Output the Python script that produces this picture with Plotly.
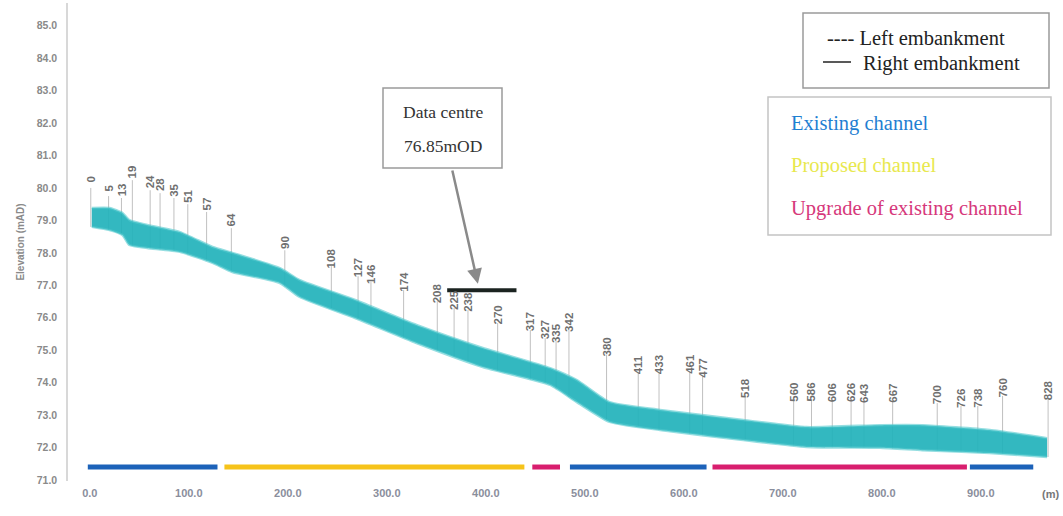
import numpy as np
import plotly.graph_objects as go

# --- Channel long section: chainage (m) and bed band elevations (mAD) ---
chainage = [2, 20, 33, 40, 58, 91, 124, 144, 192, 212, 268, 330, 397, 465,
            492, 525, 576, 660, 724, 798, 841, 909, 967]
band_top = [79.38, 79.38, 79.23, 79.01, 78.86, 78.64, 78.18, 78.00, 77.53,
            77.16, 76.55, 75.78, 75.07, 74.45, 74.08, 73.40, 73.16, 72.85,
            72.63, 72.69, 72.69, 72.54, 72.29]
band_bottom = [78.80, 78.70, 78.55, 78.24, 78.15, 78.03, 77.69, 77.41, 77.07,
               76.64, 75.99, 75.22, 74.48, 73.93, 73.40, 72.79, 72.54, 72.23,
               72.02, 71.99, 71.92, 71.83, 71.71]

# --- Cross-section markers ---
section_chainage = [1, 19, 32, 43, 61, 71, 85, 99, 118, 143, 197, 244, 271, 284,
                    317, 351, 368, 382, 412, 445, 460, 471, 484, 522, 554, 575,
                    606, 619, 662, 711, 729, 750, 769, 782, 811, 856, 880, 897,
                    922, 968]
section_label_level = [80.25, 80.00, 79.94, 80.49, 80.18, 80.09, 79.94, 79.75,
                       79.51, 79.01, 78.33, 77.84, 77.53, 77.35, 77.10, 76.76,
                       76.55, 76.49, 76.09, 75.87, 75.62, 75.53, 75.87, 75.10,
                       74.54, 74.54, 74.57, 74.45, 73.84, 73.71, 73.71, 73.68,
                       73.68, 73.68, 73.68, 73.62, 73.53, 73.53, 73.84, 73.77]
section_names = ["0", "5", "13", "19", "24", "28", "35", "51", "57", "64",
                 "90", "108", "127", "146", "174", "208", "225", "238", "270",
                 "317", "327", "335", "342", "380", "411", "433", "461", "477",
                 "518", "560", "586", "606", "626", "643", "667", "700", "726",
                 "738", "760", "828"]

# --- Channel works along the route (start, end chainage) ---
works_start = [-2, 136, 447, 485, 629, 889]
works_end = [129, 439, 475, 623, 886, 953]
works_type = ["Existing channel", "Proposed channel", "Upgrade of existing channel",
              "Existing channel", "Upgrade of existing channel", "Existing channel"]
works_level = 71.40

# --- Data centre platform ---
data_centre_level = 76.85
data_centre_start = 361
data_centre_end = 431

# --- Axis ticks ---
y_ticks = [71, 72, 73, 74, 75, 76, 77, 78, 79, 80, 81, 82, 83, 84, 85]
x_ticks = [0, 100, 200, 300, 400, 500, 600, 700, 800, 900]

works_colour = {
    "Existing channel": "#1c62b9",
    "Proposed channel": "#f6c31a",
    "Upgrade of existing channel": "#d81e6e",
}

W, H = 1063, 516
ML, MR, MT, MB = 68, 0, 3, 35
PW, PH = W - ML - MR, H - MT - MB

x_min = -22
x_max = x_min + PW / 0.99
y_min = 71 - 1 / 32.45
y_max = y_min + PH / 32.45


def px(xp):
    return (xp - ML) / PW


def py(yp):
    return (H - MB - yp) / PH


fig = go.Figure()

# cross-section marker lines
mx, my = [], []
bot_interp = np.interp(section_chainage, chainage, band_bottom)
for c, lvl, b in zip(section_chainage, section_label_level, bot_interp):
    mx += [c, c, None]
    my += [lvl - 0.25, b, None]
fig.add_trace(go.Scatter(x=mx, y=my, mode="lines",
                         line=dict(color="rgba(140,140,140,0.55)", width=1),
                         hoverinfo="skip", showlegend=False))

# channel band
fig.add_trace(go.Scatter(x=chainage, y=band_bottom, mode="lines",
                         line=dict(color="rgba(80,200,205,0.6)", width=2.5, shape="spline", smoothing=0.5),
                         hoverinfo="skip", showlegend=False))
fig.add_trace(go.Scatter(x=chainage, y=band_top, mode="lines", fill="tonexty",
                         fillcolor="rgba(34,178,187,0.92)",
                         line=dict(color="rgba(80,200,205,0.6)", width=2.5, shape="spline", smoothing=0.5),
                         hoverinfo="skip", showlegend=False))

# channel works strips
for s, e, t in zip(works_start, works_end, works_type):
    fig.add_trace(go.Scatter(x=[s, e], y=[works_level, works_level], mode="lines",
                             line=dict(color=works_colour[t], width=5),
                             hoverinfo="skip", showlegend=False))

# data centre platform
fig.add_trace(go.Scatter(x=[data_centre_start, data_centre_end],
                         y=[data_centre_level, data_centre_level], mode="lines",
                         line=dict(color="#1b2320", width=4),
                         hoverinfo="skip", showlegend=False))

annotations = []
for c, lvl, name in zip(section_chainage, section_label_level, section_names):
    annotations.append(dict(x=c, y=lvl, xref="x", yref="y", text=name, showarrow=False,
                            textangle=-90, yanchor="middle", xanchor="center",
                            font=dict(family="Arial", size=11.5, color="#6f6f6f", weight="bold")))

serif = "Liberation Serif"

# embankment key box
box1 = (803, 13, 1049, 88)
annotations.append(dict(x=px(825), y=py(38), xref="paper", yref="paper", xanchor="left",
                        yanchor="middle", showarrow=False, text="---- Left embankment",
                        font=dict(family=serif, size=20.5, color="#222222")))
annotations.append(dict(x=px(861), y=py(63), xref="paper", yref="paper", xanchor="left",
                        yanchor="middle", showarrow=False, text="Right embankment",
                        font=dict(family=serif, size=20.5, color="#222222")))

# channel works key box
box2 = (768, 97, 1051, 235)
key_rows = [("Existing channel", 123, "#1f7fd2"),
            ("Proposed channel", 165, "#e8e84e"),
            ("Upgrade of existing channel", 209, "#d6387b")]
for txt, yy, col in key_rows:
    annotations.append(dict(x=px(789), y=py(yy), xref="paper", yref="paper", xanchor="left",
                            yanchor="middle", showarrow=False, text=txt,
                            font=dict(family=serif, size=20.5, color=col)))

# data centre callout
box3 = (383, 88, 502, 168)
annotations.append(dict(x=px(443), y=py(112), xref="paper", yref="paper", xanchor="center",
                        yanchor="middle", showarrow=False, text="Data centre",
                        font=dict(family=serif, size=17.5, color="#333333")))
annotations.append(dict(x=px(443), y=py(146), xref="paper", yref="paper", xanchor="center",
                        yanchor="middle", showarrow=False, text="76.85mOD",
                        font=dict(family=serif, size=17.5, color="#333333")))
tail_x = x_min + px(452) * (x_max - x_min)
tail_y = y_min + py(169) * (y_max - y_min)
annotations.append(dict(x=392, y=data_centre_level + 0.2, xref="x", yref="y",
                        ax=tail_x, ay=tail_y, axref="x", ayref="y",
                        showarrow=True, arrowhead=2, arrowsize=1.2, arrowwidth=2.5,
                        arrowcolor="#8a8a8a", text=""))

# axis unit at right end
annotations.append(dict(x=px(1061), y=py(494), xref="paper", yref="paper", xanchor="right",
                        yanchor="middle", showarrow=False, text="(m)",
                        font=dict(family="Arial", size=11, color="#777777", weight="bold")))

shapes = []
for (x0, y0, x1, y1), col in [(box1, "#9a9a9a"), (box2, "#c4c4c4"), (box3, "#9a9a9a")]:
    shapes.append(dict(type="rect", xref="paper", yref="paper",
                       x0=px(x0), x1=px(x1), y0=py(y1), y1=py(y0),
                       line=dict(color=col, width=1.5), fillcolor="rgba(255,255,255,0)"))
shapes.append(dict(type="line", xref="paper", yref="paper", x0=px(823), x1=px(851),
                   y0=py(62), y1=py(62), line=dict(color="#222222", width=1.5)))

fig.update_layout(
    width=W, height=H,
    margin=dict(l=ML, r=MR, t=MT, b=MB),
    paper_bgcolor="white", plot_bgcolor="white",
    showlegend=False,
    annotations=annotations,
    shapes=shapes,
    xaxis=dict(range=[x_min, x_max], tickvals=x_ticks,
               ticktext=[f"{v:.1f}" for v in x_ticks],
               showgrid=False, zeroline=False, showline=False, ticks="",
               ticklabelstandoff=4,
               tickfont=dict(family="Arial", size=11, color="#8a8e9c", weight="bold")),
    yaxis=dict(range=[y_min, y_max], tickvals=y_ticks,
               ticktext=[f"{v:.1f}" for v in y_ticks],
               showgrid=False, zeroline=False, showline=True, linecolor="#d8d8d8",
               linewidth=1.5, ticks="", ticklabelstandoff=7,
               tickfont=dict(family="Arial", size=10.5, color="#8a8a8a", weight="bold"),
               title=dict(text="Elevation (mAD)", standoff=10,
                          font=dict(family="Arial", size=10, color="#8a8a8a", weight="bold"))),
)

fig.write_html("out.html")
